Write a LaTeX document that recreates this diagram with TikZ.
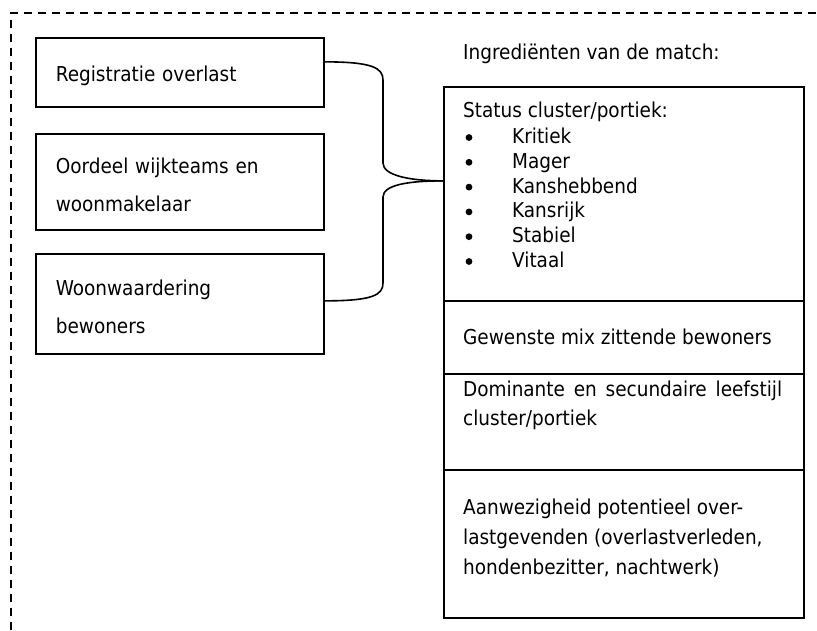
\documentclass[tikz,border=0pt]{standalone}
\usepackage{fontspec}
\setmainfont{DejaVu Sans Condensed}
\newcommand\tallstrut{\rule{0pt}{22pt}}
\begin{document}
\begin{tikzpicture}[x=1pt,y=-1pt,
  every node/.style={font=\fontsize{20.5}{37.5}\selectfont},
  frame/.style={line width=1.4pt, dash pattern=on 8pt off 6pt},
  leftbox/.style={draw, line width=1.7pt, anchor=north west, minimum width=288pt,
    text width=248pt, inner xsep=20pt, inner ysep=0pt, align=left},
  section/.style={draw, line width=1.7pt, anchor=north west, minimum width=360pt,
    inner sep=0pt},
  txt/.style={anchor=base west, inner sep=0pt},
  bul/.style={circle, fill, inner sep=0pt, minimum size=6.8pt},
  brace/.style={line width=1.6pt}]
\useasboundingbox (0,0) rectangle (817,630);

% dashed outline (top and left edges)
\draw[frame] (11,630) -- (11,13) -- (817,13);

% input sources
\node[leftbox, minimum height=69pt] (reg) at (35,37) {\tallstrut Registratie overlast};
\node[leftbox, minimum height=96pt] (oordeel) at (35,133) {\tallstrut\rule{0pt}{3pt}Oordeel wijkteams en\\woonmakelaar};
\node[leftbox, minimum height=100pt] (wonen) at (35,253) {\rule{0pt}{21.6pt}Woonwaardering\\bewoners};

% stacked ingredients
\node[section, minimum height=214pt] (status) at (443,86) {};
\node[section, minimum height=73pt] (mix) at (443,300) {};
\node[section, minimum height=96pt] (leefstijl) at (443,373) {};
\node[section, minimum height=148pt] (overlast) at (443,469) {};

\node[txt] (kop) at (463,59) {Ingrediënten van de match:};
\node[txt] (statustitel) at (463,117) {Status cluster/portiek:};
\foreach \i/\w in {0/Kritiek,1/Mager,2/Kanshebbend,3/Kansrijk,4/Stabiel,5/Vitaal}{
  \node[bul] (b\i) at (469,137.5+24.8*\i) {};
  \node[txt] (t\i) at (512,143.5+24.8*\i) {\w};
}
\node[txt] (mixtekst) at (463,344) {Gewenste mix zittende bewoners};
\node[txt] (leef1) at (463,396) {\makebox[319pt][s]{Dominante en secundaire leefstijl}};
\node[txt] (leef2) at (463,425) {cluster/portiek};
\node[txt] (over1) at (463,514) {Aanwezigheid potentieel over-};
\node[txt] (over2) at (463,544) {lastgevenden (overlastverleden,};
\node[txt] (over3) at (463,574) {hondenbezitter, nachtwerk)};

% brace joining the sources to the ingredients
\coordinate (tip) at ([yshift=13pt]status.west);
\draw[brace] ([yshift=10.5pt]reg.east) .. controls +(48,0) and +(0,-12) .. (383,80)
  -- (383,163) .. controls +(0,12) and +(-35,0) .. (tip);
\draw[brace] (tip) .. controls +(-35,0) and +(0,-12) .. (383,197)
  -- (383,283) .. controls +(0,12) and +(48,0) .. ([yshift=3pt]wonen.east);
\end{tikzpicture}
\end{document}
